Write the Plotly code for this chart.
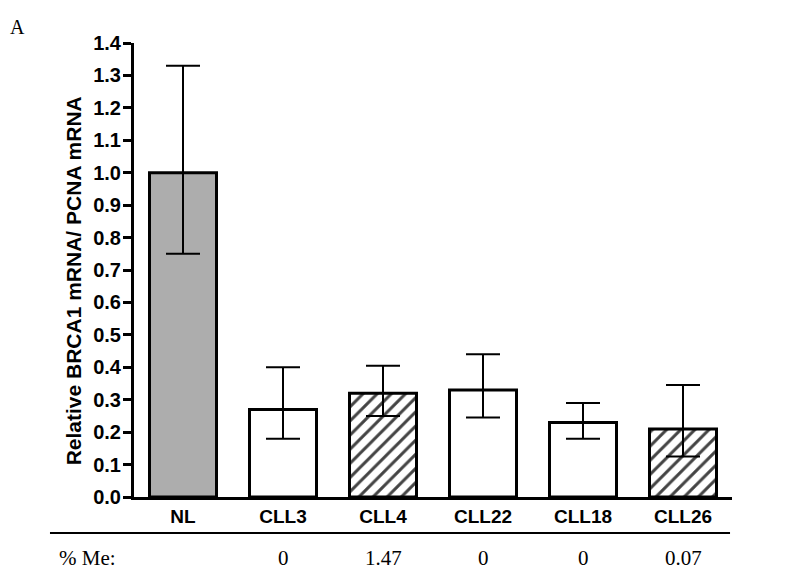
import plotly.graph_objects as go

categories = ["NL", "CLL3", "CLL4", "CLL22", "CLL18", "CLL26"]
values = [1.00, 0.27, 0.32, 0.33, 0.23, 0.21]
err_upper = [1.33, 0.40, 0.405, 0.44, 0.29, 0.345]
err_lower = [0.75, 0.18, 0.25, 0.245, 0.18, 0.125]
me_labels = ["", "0", "1.47", "0", "0", "0.07"]
fills = ["#adadad", "white", "white", "white", "white", "white"]
patterns = ["", "", "/", "", "", "/"]

plus = [u - v for u, v in zip(err_upper, values)]
minus = [v - l for v, l in zip(values, err_lower)]

fig = go.Figure()
fig.add_trace(go.Bar(
    x=categories, y=values, width=0.67,
    marker=dict(color=fills, line=dict(color="black", width=3),
                pattern=dict(shape=patterns, fgcolor="black", bgcolor="white",
                             fgopacity=1, size=10, solidity=0.3)),
    error_y=dict(type="data", symmetric=False, array=plus, arrayminus=minus,
                 color="black", thickness=2, width=17),
    showlegend=False,
))

sans = "Liberation Sans, Arial, sans-serif"
serif = "Liberation Serif, Times New Roman, serif"

fig.update_layout(
    width=800, height=574,
    margin=dict(l=134, r=68, t=43, b=77),
    paper_bgcolor="white", plot_bgcolor="white",
    bargap=0.33,
    xaxis=dict(range=[-0.49, 5.49], showline=True, linecolor="black", linewidth=3,
               ticks="", showgrid=False, zeroline=False,
               tickfont=dict(family=sans, size=19, color="black", weight="bold")),
    yaxis=dict(range=[0, 1.4], dtick=0.1, tickformat=".1f", showline=True,
               linecolor="black", linewidth=3, ticks="outside", ticklen=8,
               tickwidth=3, tickcolor="black", showgrid=False, zeroline=False,
               ticklabelstandoff=-2,
               tickfont=dict(family=sans, size=20, color="black", weight="bold")),
)

fig.add_annotation(text="Relative BRCA1 mRNA/ PCNA mRNA", textangle=-90,
                   xref="paper", yref="paper", x=-0.102, y=0.475,
                   xanchor="center", yanchor="middle", showarrow=False,
                   font=dict(family=sans, size=21, color="black", weight="bold"))

fig.add_annotation(text="A", xref="paper", yref="paper", x=-0.2107, y=1.035,
                   xanchor="left", yanchor="middle", showarrow=False,
                   font=dict(family=serif, size=20, color="black"))

fig.add_annotation(text="% Me:", xref="paper", yref="paper", x=-0.128, y=-0.134,
                   xanchor="left", yanchor="middle", showarrow=False,
                   font=dict(family=serif, size=21, color="black"))

for c, t in zip(categories, me_labels):
    if t:
        fig.add_annotation(text=t, xref="x", yref="paper", x=c, y=-0.134,
                           xanchor="center", yanchor="middle", showarrow=False,
                           font=dict(family=serif, size=21, color="black"))

fig.add_shape(type="line", xref="paper", yref="paper", x0=-0.1405, x1=0.9967,
              y0=-0.0793, y1=-0.0793, line=dict(color="black", width=2))

fig.write_html("out.html", config={"displayModeBar": False},
               post_script="document.body.style.margin='0';document.body.style.padding='0';document.body.style.overflow='hidden';")
